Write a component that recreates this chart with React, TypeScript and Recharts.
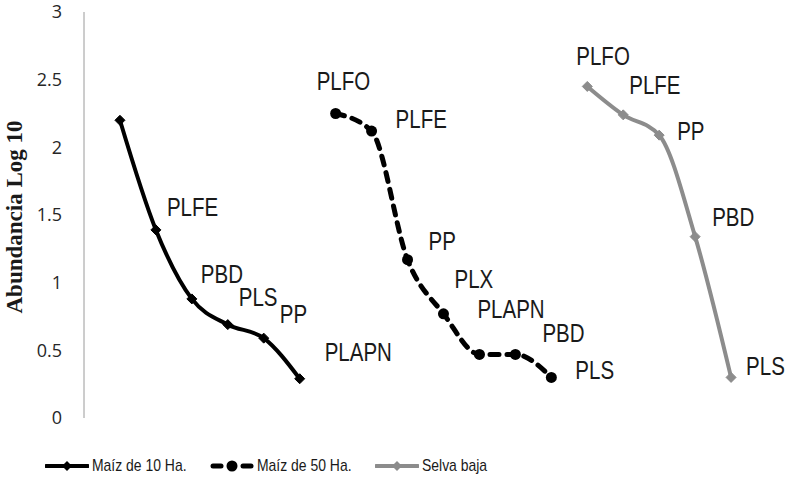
import { LineChart, Line, XAxis, YAxis, Legend, LabelList } from "recharts";

// species codes and log10 abundance, one list per habitat
const SERIES_NAMES = ["Maíz de 10 Ha.", "Maíz de 50 Ha.", "Selva baja"];

const SPECIES_10 = ["", "PLFE", "PBD", "PLS", "PP", "PLAPN"];
const VALUES_10 = [2.2, 1.39, 0.88, 0.69, 0.59, 0.29];

const SPECIES_50 = ["PLFO", "PLFE", "PP", "PLX", "PLAPN", "PBD", "PLS"];
const VALUES_50 = [2.25, 2.12, 1.17, 0.77, 0.47, 0.47, 0.3];

const SPECIES_SB = ["PLFO", "PLFE", "PP", "PBD", "PLS"];
const VALUES_SB = [2.45, 2.24, 2.09, 1.34, 0.3];

const Y_TICKS = [0, 0.5, 1, 1.5, 2, 2.5, 3];

// where each text sits relative to its point (left edge, vertical centre)
const LABEL_OFFSETS: [number, number][] = [
  [0, 0], [11, -23], [9, -25], [11, -28], [16, -24], [25, -27],
  [-19, -33], [24, -12], [21, -19], [11, -35], [-2, -45], [27, -21], [24, -7],
  [-11, -30], [6, -30], [18, -4], [17, -20], [15, -11],
];

const rows = [
  ...VALUES_10.map((v, i) => ({ idx: i, m10: v, name: SPECIES_10[i] })),
  ...VALUES_50.map((v, i) => ({ idx: VALUES_10.length + i, m50: v, name: SPECIES_50[i] })),
  ...VALUES_SB.map((v, i) => ({
    idx: VALUES_10.length + VALUES_50.length + i,
    sb: v,
    name: SPECIES_SB[i],
  })),
];

const GRAY = "#8c8c8c";
const SANS = "'Liberation Sans', Arial, sans-serif";
const TICK_FONT = "'Open Sans', 'Noto Sans', sans-serif";

const diamondDot = (color: string, r: number) => (props: any) => {
  const { cx, cy, value, index } = props;
  if (value == null || cx == null || cy == null) return <g key={`e-${index}`} />;
  return (
    <path
      key={`d-${index}`}
      d={`M${cx},${cy - r}L${cx + r},${cy}L${cx},${cy + r}L${cx - r},${cy}Z`}
      fill={color}
      stroke={color}
    />
  );
};

const circleDot = (props: any) => {
  const { cx, cy, value, index } = props;
  if (value == null || cx == null || cy == null) return <g key={`e-${index}`} />;
  return <circle key={`c-${index}`} cx={cx} cy={cy} r={5.5} fill="#000" />;
};

// narrow look of the original labels: squeeze Liberation Sans horizontally
const renderPointLabel = (props: any) => {
  const { x, y, value, index } = props;
  if (value == null || x == null) return null;
  const name = rows[index]?.name;
  if (!name) return null;
  const [dx, dy] = LABEL_OFFSETS[index];
  return (
    <text
      transform={`translate(${x + dx},${y + dy + 9}) scale(0.82,1)`}
      fill="#1a1a1a"
      fontSize={25}
      fontFamily={SANS}
    >
      {name}
    </text>
  );
};

const LegendIcon = ({ kind }: { kind: number }) => {
  if (kind === 0)
    return (
      <svg width={44} height={14}>
        <line x1={1} y1={7} x2={43} y2={7} stroke="#000" strokeWidth={4} strokeLinecap="round" />
        <path d="M22,2L27,7L22,12L17,7Z" fill="#000" />
      </svg>
    );
  if (kind === 1)
    return (
      <svg width={44} height={14}>
        <line x1={3} y1={7} x2={11} y2={7} stroke="#000" strokeWidth={5} strokeLinecap="round" />
        <line x1={33} y1={7} x2={41} y2={7} stroke="#000" strokeWidth={5} strokeLinecap="round" />
        <circle cx={22} cy={7} r={5.5} fill="#000" />
      </svg>
    );
  return (
    <svg width={44} height={14}>
      <line x1={1} y1={7} x2={43} y2={7} stroke={GRAY} strokeWidth={4} strokeLinecap="round" />
      <path d="M22,2L27,7L22,12L17,7Z" fill={GRAY} />
    </svg>
  );
};

const renderLegend = () => (
  <div
    style={{
      display: "flex",
      alignItems: "center",
      height: 30,
      paddingLeft: 45,
      fontFamily: SANS,
      fontSize: 17,
      color: "#1a1a1a",
    }}
  >
    {SERIES_NAMES.map((n, i) => (
      <div key={n} style={{ display: "flex", alignItems: "center", width: 165 }}>
        <LegendIcon kind={i} />
        <span
          style={{
            marginLeft: 3,
            display: "inline-block",
            whiteSpace: "nowrap",
            transform: "scaleX(0.82)",
            transformOrigin: "left center",
          }}
        >
          {n}
        </span>
      </div>
    ))}
  </div>
);

export default function App() {
  return (
    <div style={{ position: "absolute", left: 0, top: 0, background: "#fff" }}>
      <LineChart
        width={791}
        height={483}
        data={rows}
        margin={{ top: 12, right: 6, bottom: 35, left: 0 }}
      >
        <XAxis dataKey="idx" type="number" domain={[-1, 18.5]} hide />
        <YAxis
          domain={[0, 3]}
          ticks={Y_TICKS}
          width={84}
          axisLine={{ stroke: "#9a9a9a" }}
          tickLine={false}
          tickMargin={16}
          tick={{ fontSize: 18, fill: "#262626", fontFamily: TICK_FONT }}
          label={{
            content: () => (
              <text
                transform="translate(22, 217) rotate(-90)"
                textAnchor="middle"
                fontFamily="'Liberation Serif', 'Times New Roman', serif"
                fontWeight="bold"
                fontSize={23}
                fill="#1a1a1a"
              >
                Abundancia Log 10
              </text>
            ),
          }}
        />
        <Legend
          verticalAlign="bottom"
          content={renderLegend}
          wrapperStyle={{ bottom: 2, left: 0 }}
        />
        <Line
          dataKey="m10"
          type="monotone"
          stroke="#000"
          strokeWidth={4}
          dot={diamondDot("#000", 5)}
          isAnimationActive={false}
        >
          <LabelList dataKey="m10" content={renderPointLabel} />
        </Line>
        <Line
          dataKey="m50"
          type="monotone"
          stroke="#000"
          strokeWidth={5}
          strokeDasharray="9 8"
          strokeLinecap="round"
          dot={circleDot}
          isAnimationActive={false}
        >
          <LabelList dataKey="m50" content={renderPointLabel} />
        </Line>
        <Line
          dataKey="sb"
          type="monotone"
          stroke={GRAY}
          strokeWidth={4}
          dot={diamondDot(GRAY, 5)}
          isAnimationActive={false}
        >
          <LabelList dataKey="sb" content={renderPointLabel} />
        </Line>
      </LineChart>
    </div>
  );
}
